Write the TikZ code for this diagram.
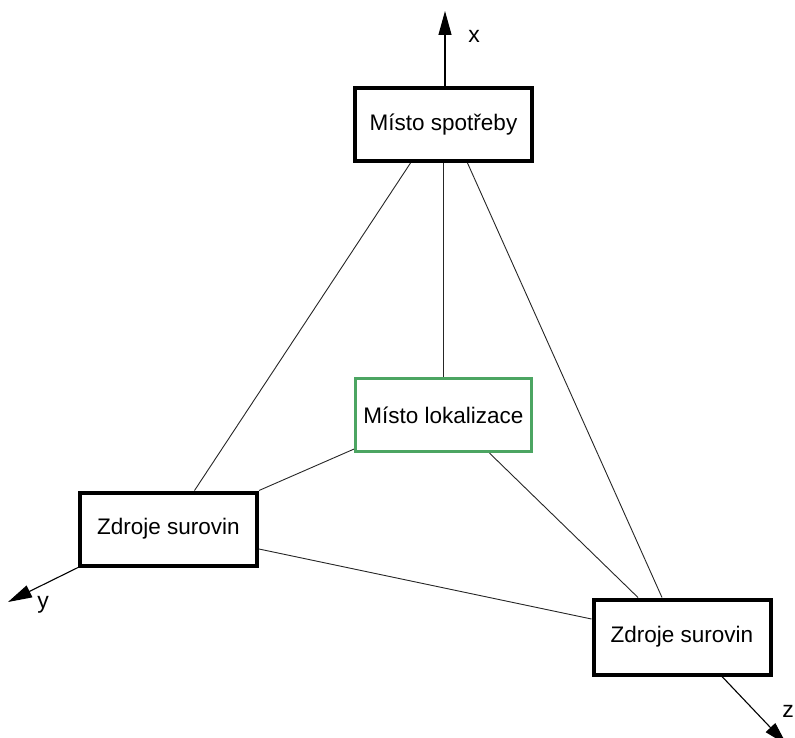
\documentclass[tikz,border=0pt]{standalone}
\usepackage{fontspec}
\setmainfont{Liberation Sans}
\usetikzlibrary{arrows.meta,calc}
\definecolor{locgreen}{RGB}{76,165,98}
\tikzset{
  place/.style={draw=black, line width=4pt, fill=white, inner sep=0pt,
    minimum width=177pt, minimum height=73pt, font=\fontsize{22.5}{26}\selectfont},
  target/.style={place, draw=locgreen, line width=3.2pt},
  link/.style={line width=0.9pt, draw=black!85},
  axis/.style={line width=1.1pt, -{Triangle[length=24pt,width=13pt]}},
  axislabel/.style={font=\fontsize{23}{26}\selectfont}
}
\begin{document}
\begin{tikzpicture}[x=1pt,y=-1pt]
  \useasboundingbox (0,0) rectangle (795,738);
  \clip (0,0) rectangle (795,738);
  % the four places
  \node[place, minimum height=73pt] (top) at (443.5,124.5) {Místo spotřeby};
  \node[target, minimum width=176pt] (mid) at (443.5,415) {Místo lokalizace};
  \node[place] (left) at (168.5,529) {Zdroje surovin};
  \node[place, minimum height=75pt] (right) at (682,637) {Zdroje surovin};
  % axis ends
  \coordinate (xend) at (445,11);
  \coordinate (yend) at (8,602);
  \coordinate (zend) at (787,745);
  % connectors
  \draw[link] ([xshift=-33pt]top.south) -- ([xshift=26pt]left.north);
  \draw[link] (top.south) -- (mid.north);
  \draw[link] ([xshift=24pt]top.south) -- ([xshift=-20pt]right.north);
  \draw[link] ([yshift=4pt]mid.south west) -- (left.north east);
  \draw[link] ([xshift=46pt]mid.south) -- ([xshift=-44pt]right.north);
  \draw[link] ([yshift=-20pt]left.east) -- ([yshift=18pt]right.west);
  % axes
  \draw[axis] ([xshift=1.5pt]top.north) -- (xend);
  \draw[axis] (left.south west) -- (yend);
  \draw[axis] ([xshift=40pt]right.south) -- (zend);
  \node[axislabel] at (474,36) {x};
  \node[axislabel] at (43,605) {y};
  \node[axislabel] at (788,711) {z};
\end{tikzpicture}
\end{document}
